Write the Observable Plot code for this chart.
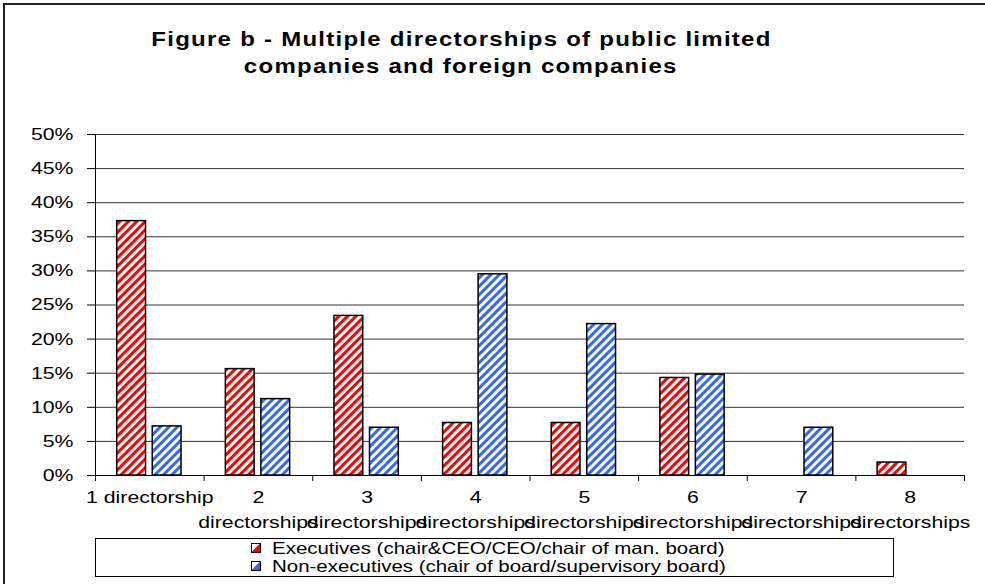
<!DOCTYPE html>
<html>
<head>
<meta charset="utf-8">
<script src="https://cdn.jsdelivr.net/npm/d3@7"></script>
<script src="https://cdn.jsdelivr.net/npm/@observablehq/plot@0.6"></script>
<style>
  html, body { margin: 0; padding: 0; background: #fff; overflow: hidden; }
  #frame { position: relative; width: 985px; height: 584px; overflow: hidden; background: #fff;
           font-family: "Liberation Sans", Arial, sans-serif; color: #000; }
  .edge { position: absolute; background: #222; z-index: 5; pointer-events: none; }
  .tline { position: absolute; left: 0; width: 922px; text-align: center; font-weight: bold;
           font-size: 20px; line-height: 27px; letter-spacing: 1.05px; white-space: nowrap; }
  .tline span { display: inline-block; transform: scaleX(1.2); transform-origin: center; }
  #chart { position: absolute; left: 0; top: 110px; }
  #legend { position: absolute; left: 95px; top: 538px; width: 797px; height: 37px; border: 1px solid #000; }
  .lg { position: absolute; left: 0; height: 18px; white-space: nowrap; }
  .sw { position: absolute; left: 155px; width: 8px; height: 8px; border: 1px solid #000; }
  .lt { position: absolute; left: 176px; top: 0; font-size: 16.5px; line-height: 18px;
        transform: scaleX(1.24); transform-origin: left center; }
</style>
</head>
<body>
<div id="frame">
  <svg width="0" height="0" style="position:absolute;left:0;top:0">
    <defs>
      <pattern id="stripeRed" patternUnits="userSpaceOnUse" width="6" height="6" patternTransform="rotate(45)">
        <rect width="6" height="6" fill="#ffffff"></rect>
        <rect width="3" height="6" fill="#ff0000"></rect>
      </pattern>
      <pattern id="stripeBlue" patternUnits="userSpaceOnUse" width="6" height="6" patternTransform="rotate(45)">
        <rect width="6" height="6" fill="#ffffff"></rect>
        <rect width="3" height="6" fill="#3366ff"></rect>
      </pattern>
    </defs>
  </svg>
  <div class="edge" style="left:3px;top:3px;width:982px;height:2px"></div>
  <div class="edge" style="left:3px;top:3px;width:2px;height:581px"></div>
  <div class="tline" style="top:26px"><span id="t1"></span></div>
  <div class="tline" style="top:53px"><span id="t2"></span></div>
  <div id="chart"></div>
  <div id="legend"></div>
</div>
<script>
// ---- data ----
const titleLines = ["Figure b - Multiple directorships of public limited", "companies and foreign companies"];
const categories = ["1 directorship", "2 directorships", "3 directorships", "4 directorships",
                    "5 directorships", "6 directorships", "7 directorships", "8 directorships"];
const tickLabels = ["1 directorship", "2\ndirectorships", "3\ndirectorships", "4\ndirectorships",
                    "5\ndirectorships", "6\ndirectorships", "7\ndirectorships", "8\ndirectorships"];
const seriesNames = ["Executives (chair&CEO/CEO/chair of man. board)",
                     "Non-executives (chair of board/supervisory board)"];
const executives    = [0.373, 0.156, 0.234, 0.077, 0.077, 0.143, 0.000, 0.019];
const nonExecutives = [0.072, 0.112, 0.070, 0.295, 0.222, 0.148, 0.070, 0.000];
const yTicks = [0, 0.05, 0.10, 0.15, 0.20, 0.25, 0.30, 0.35, 0.40, 0.45, 0.50];

// ---- layout / style ----
const seriesFill = ["url(#stripeRed)", "url(#stripeBlue)"];
const legendSwatch = ["linear-gradient(135deg, #fff 48%, #ff0000 48%)", "linear-gradient(135deg, #fff 48%, #3366ff 48%)"];
const groupPad = 0.2, barW = 0.265, barGap = 0.062;
const STRETCH = 1.25;

document.getElementById("t1").textContent = titleLines[0];
document.getElementById("t2").textContent = titleLines[1];

const rows = [];
categories.forEach((c, i) => {
  [executives, nonExecutives].forEach((arr, s) => {
    if (arr[i] > 0) rows.push({i, category: c, series: s, value: arr[i],
                               off: groupPad + s * (barW + barGap)});
  });
});
const labelRows = tickLabels.map((t, i) => ({i, text: t}));
const boundaries = d3.range(categories.length + 1);

const plot = Plot.plot({
  width: 985,
  height: 425,
  marginTop: 24,
  marginBottom: 60,
  marginLeft: 95,
  marginRight: 21,
  style: {fontFamily: "'Liberation Sans', Arial, sans-serif", fontSize: "17px", color: "#000", background: "transparent", overflow: "visible"},
  x: {type: "linear", domain: [0, categories.length], ticks: boundaries, tickFormat: () => "", tickSize: 6, label: null},
  y: {domain: [0, 0.5], ticks: yTicks, tickFormat: d3.format(".0%"), tickSize: 8, tickPadding: 14, label: null},
  marks: [
    Plot.ruleY(yTicks, {stroke: "#333", strokeWidth: 1}),
    Plot.ruleX([0], {stroke: "#000", strokeWidth: 1}),
    ...[0, 1].map(s => Plot.rectY(rows.filter(d => d.series === s), {
      x1: d => d.i + d.off,
      x2: d => d.i + d.off + barW,
      y1: 0,
      y2: "value",
      fill: seriesFill[s],
      stroke: "#000",
      strokeWidth: 1.5
    })),
    Plot.ruleY([0], {stroke: "#000", strokeWidth: 1}),
    Plot.text(labelRows, {
      x: d => d.i + 0.5, y: 0, text: "text",
      lineAnchor: "top", dy: 10, lineHeight: 1.45, fontSize: 17, fill: "#000"
    })
  ]
});
document.getElementById("chart").appendChild(plot);

// widen glyphs horizontally to match the reference rendering
plot.querySelectorAll("text").forEach(t => {
  const b = t.getBBox();
  const anchor = getComputedStyle(t).textAnchor;
  const ax = anchor === "end" ? b.x + b.width : anchor === "middle" ? b.x + b.width / 2 : b.x;
  const prev = t.getAttribute("transform") || "";
  t.setAttribute("transform", `${prev} translate(${ax},0) scale(${STRETCH},1) translate(${-ax},0)`);
});

// legend
const legend = document.getElementById("legend");
seriesNames.forEach((name, s) => {
  const row = document.createElement("div");
  row.className = "lg";
  row.style.top = (s * 18) + "px";
  row.style.width = "100%";
  const sw = document.createElement("div");
  sw.className = "sw";
  sw.style.top = "4px";
  sw.style.background = legendSwatch[s];
  const tx = document.createElement("div");
  tx.className = "lt";
  tx.textContent = name;
  row.appendChild(sw);
  row.appendChild(tx);
  legend.appendChild(row);
});
</script>
</body>
</html>
